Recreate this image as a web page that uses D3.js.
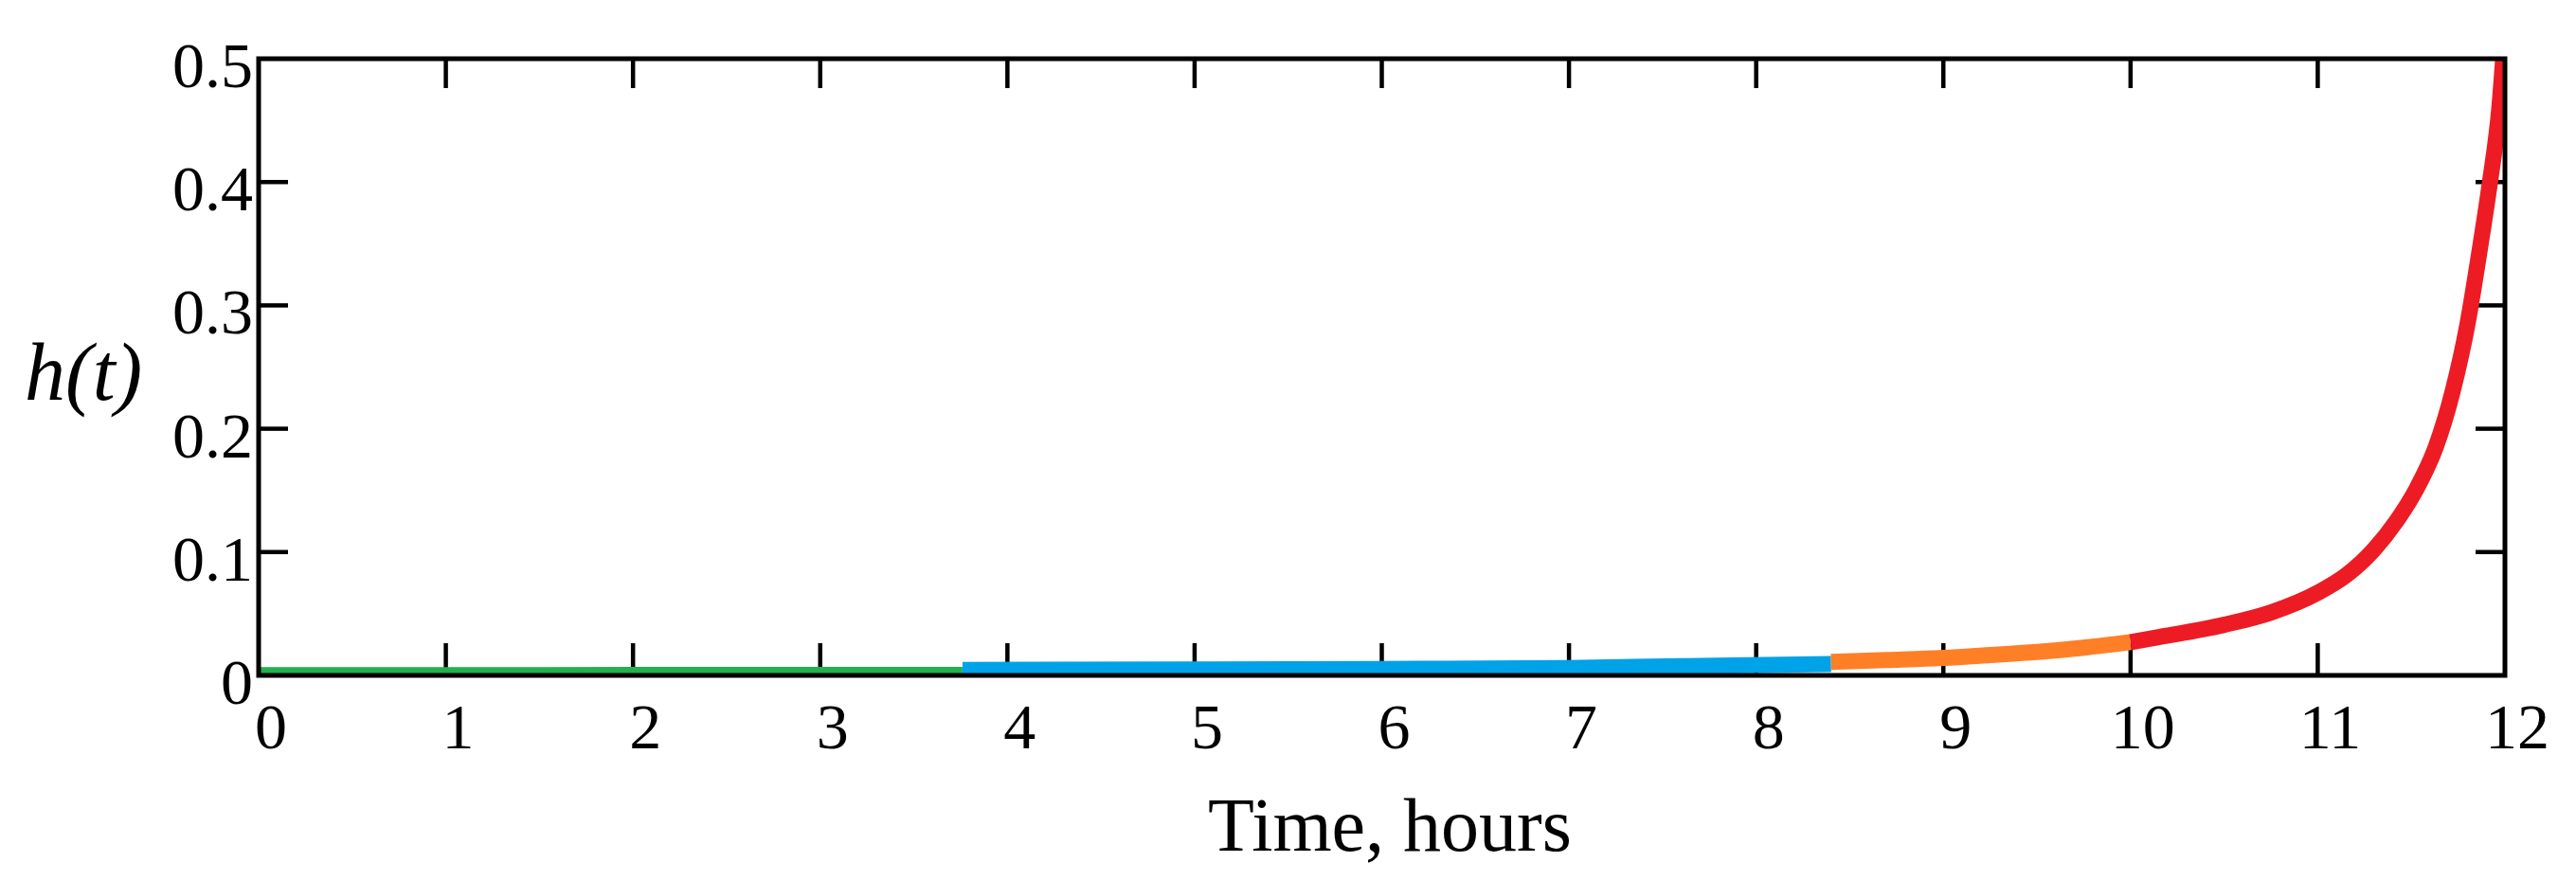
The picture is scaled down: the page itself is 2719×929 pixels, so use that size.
<!DOCTYPE html>
<html>
<head>
<meta charset="utf-8">
<script src="https://cdn.jsdelivr.net/npm/d3@7"></script>
<style>
  body { margin: 0; background: #fff; }
  text { font-family: "Liberation Serif", "Times New Roman", serif; fill: #000; }
</style>
</head>
<body>
<svg id="chart" width="2719" height="929"></svg>
<script>
/* Daten: h(t), je Abschnitt */
const greenT  = [0, 1, 2, 3, 3.76];
const greenH  = [0.0002, 0.0002, 0.0003, 0.0003, 0.0004];
const blueT   = [3.76, 5, 6, 7, 7.6, 8.4];
const blueH   = [0.0045, 0.0048, 0.0052, 0.006, 0.0075, 0.0092];
const orangeT = [8.4, 8.7, 9, 9.25, 9.5, 9.75, 10];
const orangeH = [0.011, 0.0125, 0.0142, 0.0165, 0.019, 0.0225, 0.027];
const redT    = [10, 10.15, 10.5, 10.75, 11, 11.15, 11.3, 11.42, 11.53, 11.63, 11.72, 11.8, 11.86, 11.92, 11.97, 12];
const redH    = [0.027, 0.031, 0.041, 0.051, 0.067, 0.081, 0.102, 0.125, 0.152, 0.185, 0.23, 0.285, 0.34, 0.4, 0.46, 0.52];

const xTicks = d3.range(0, 13, 1);
const yTicks = [0, 0.1, 0.2, 0.3, 0.4, 0.5];
const xTitle = "Time, hours";
const yTitle = "h(t)";

/* Optionen */
const plotLeft = 273, plotRight = 2644, plotTop = 62, plotBottom = 713;
const frameWidth = 5;
const tickLen    = 31;
const lineWidth  = 17;
const labelSize  = 68;

const svg = d3.select("#chart");

const x = d3.scaleLinear().domain([0, 12]).range([plotLeft, plotRight]);
const y = d3.scaleLinear().domain([0, 0.5]).range([plotBottom, plotTop]);

svg.append("defs").append("clipPath")
    .attr("id", "plot")
  .append("rect")
    .attr("x", plotLeft)
    .attr("y", plotTop)
    .attr("width", plotRight - plotLeft)
    .attr("height", plotBottom - plotTop);

// ticks an allen vier seiten, nach innen
const ticks = svg.append("g").attr("stroke", "#000").attr("stroke-width", 4.5);

ticks.selectAll(".tx")
  .data(xTicks.slice(1, -1))
  .enter().append("line")
    .attr("x1", (d) => x(d)).attr("x2", (d) => x(d))
    .attr("y1", plotTop).attr("y2", plotTop + tickLen);

ticks.selectAll(".bx")
  .data(xTicks.slice(1, -1))
  .enter().append("line")
    .attr("x1", (d) => x(d)).attr("x2", (d) => x(d))
    .attr("y1", plotBottom).attr("y2", plotBottom - tickLen - 3);

ticks.selectAll(".ly")
  .data(yTicks.slice(1, -1))
  .enter().append("line")
    .attr("x1", plotLeft).attr("x2", plotLeft + tickLen)
    .attr("y1", (d) => y(d)).attr("y2", (d) => y(d));

ticks.selectAll(".ry")
  .data(yTicks.slice(1, -1))
  .enter().append("line")
    .attr("x1", plotRight - tickLen).attr("x2", plotRight)
    .attr("y1", (d) => y(d)).attr("y2", (d) => y(d));

// kurve, abschnittsweise gefaerbt
const line = d3.line()
    .x((d) => x(d[0]))
    .y((d) => y(d[1]))
    .curve(d3.curveMonotoneX);

const segments = [
  { t: greenT,  h: greenH,  color: "#22B14C" },
  { t: blueT,   h: blueH,   color: "#00A2E8" },
  { t: orangeT, h: orangeH, color: "#FF7F27" },
  { t: redT,    h: redH,    color: "#ED1C24" }
];

const curves = svg.append("g").attr("clip-path", "url(#plot)");

segments.forEach((s) => {
  curves.append("path")
    .datum(s.t.map((t, i) => [t, s.h[i]]))
    .attr("d", line)
    .attr("fill", "none")
    .attr("stroke", s.color)
    .attr("stroke-width", lineWidth)
    .attr("stroke-linecap", "butt");
});

// rahmen
svg.append("rect")
    .attr("x", plotLeft)
    .attr("y", plotTop)
    .attr("width", plotRight - plotLeft)
    .attr("height", plotBottom - plotTop)
    .attr("fill", "none")
    .attr("stroke", "#000")
    .attr("stroke-width", frameWidth);

// beschriftung
svg.append("g").selectAll("text")
  .data(xTicks)
  .enter().append("text")
    .attr("x", (d) => x(d) + 13)
    .attr("y", 790)
    .attr("text-anchor", "middle")
    .style("font-size", labelSize + "px")
    .text((d) => d);

svg.append("g").selectAll("text")
  .data(yTicks)
  .enter().append("text")
    .attr("x", plotLeft - 6)
    .attr("y", (d) => y(d) + 30)
    .attr("text-anchor", "end")
    .style("font-size", labelSize + "px")
    .text((d) => d);

svg.append("text")
    .attr("x", 1467)
    .attr("y", 898)
    .attr("text-anchor", "middle")
    .style("font-size", "80px")
    .text(xTitle);

svg.append("text")
    .attr("x", 26)
    .attr("y", 422)
    .style("font-size", "86px")
    .style("font-style", "italic")
    .text(yTitle);
</script>
</body>
</html>
